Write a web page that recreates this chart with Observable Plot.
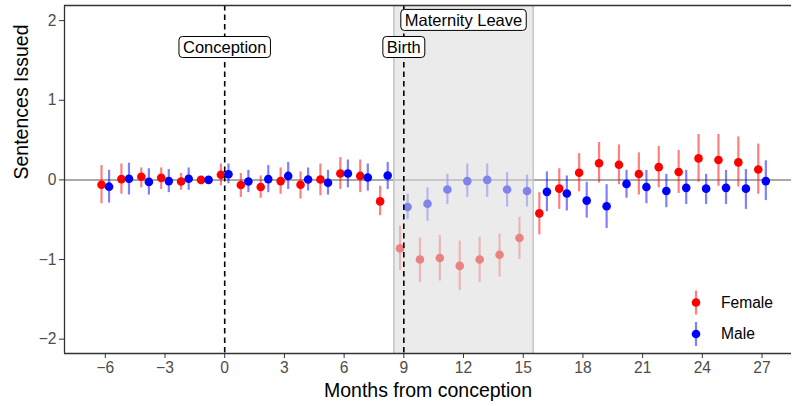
<!DOCTYPE html>
<html>
<head>
<meta charset="utf-8">
<script src="https://cdn.jsdelivr.net/npm/d3@7"></script>
<script src="https://cdn.jsdelivr.net/npm/@observablehq/plot@0.6"></script>
<style>
  html, body { margin: 0; padding: 0; background: #fff; }
  #chart { width: 792px; height: 406px; }
  #chart svg { font-family: "Liberation Sans", Arial, Helvetica, sans-serif; }
</style>
</head>
<body>
<div id="chart"></div>
<script>
// Event-study estimates: months relative to conception
const months = [-6, -5, -4, -3, -2, -1, 0, 1, 2, 3, 4, 5, 6, 7, 8, 9, 10, 11, 12, 13,
                14, 15, 16, 17, 18, 19, 20, 21, 22, 23, 24, 25, 26, 27];

// Female judges: point estimate and 95% interval
const femaleEst = [-0.06, 0.01, 0.04, 0.025, -0.02, 0.0, 0.065, -0.065, -0.09, -0.015,
                   -0.06, 0.005, 0.08, 0.05, -0.27, -0.86, -1.0, -0.98, -1.08, -1.0,
                   -0.94, -0.73, -0.42, -0.11, 0.09, 0.21, 0.19, 0.075, 0.16, 0.10,
                   0.27, 0.25, 0.22, 0.13];
const femaleLo = [-0.30, -0.18, -0.10, -0.12, -0.13, 0.0, -0.075, -0.22, -0.23, -0.18,
                  -0.24, -0.20, -0.12, -0.16, -0.45, -1.14, -1.29, -1.27, -1.39, -1.29,
                  -1.22, -1.00, -0.69, -0.37, -0.15, -0.04, -0.06, -0.19, -0.10, -0.17,
                  -0.03, -0.08, -0.09, -0.18];
const femaleHi = [0.18, 0.20, 0.15, 0.15, 0.08, 0.0, 0.20, 0.08, 0.05, 0.15,
                  0.10, 0.20, 0.28, 0.25, -0.08, -0.58, -0.73, -0.70, -0.77, -0.72,
                  -0.68, -0.47, -0.16, 0.14, 0.33, 0.47, 0.44, 0.34, 0.42, 0.37,
                  0.57, 0.57, 0.54, 0.45];

// Male judges
const maleEst = [-0.085, 0.015, -0.025, -0.015, 0.015, 0.0, 0.07, -0.02, 0.01, 0.05,
                 0.005, -0.035, 0.08, 0.03, 0.055, -0.34, -0.30, -0.12, -0.015, 0.0,
                 -0.12, -0.14, -0.15, -0.17, -0.26, -0.33, -0.05, -0.09, -0.14, -0.10,
                 -0.11, -0.10, -0.11, -0.015];
const maleLo = [-0.29, -0.19, -0.19, -0.16, -0.13, 0.0, -0.05, -0.16, -0.16, -0.12,
                -0.14, -0.19, -0.10, -0.14, -0.12, -0.50, -0.52, -0.31, -0.22, -0.22,
                -0.34, -0.34, -0.40, -0.39, -0.48, -0.61, -0.23, -0.30, -0.35, -0.31,
                -0.31, -0.31, -0.37, -0.26];
const maleHi = [0.12, 0.21, 0.14, 0.13, 0.15, 0.0, 0.20, 0.12, 0.18, 0.22,
                0.15, 0.12, 0.25, 0.20, 0.22, -0.18, -0.10, 0.07, 0.20, 0.20,
                0.09, 0.06, 0.10, 0.05, -0.03, -0.06, 0.12, 0.12, 0.07, 0.12,
                0.07, 0.12, 0.13, 0.24];

const groups = ["Female", "Male"];
const groupColors = ["#FF0000", "#0000FF"];
const xTicks = [-6, -3, 0, 3, 6, 9, 12, 15, 18, 21, 24, 27];
const yTicks = [-2, -1, 0, 1, 2];

// Event markers and the leave window
const eventLines = [0, 9];
const eventLabels = [
  {x: 0, y: 1.66, text: "Conception"},
  {x: 9, y: 1.66, text: "Birth"},
  {x: 12, y: 2.0, text: "Maternity Leave"}
];
const leave = [{start: 8.5, end: 15.5}];

const xDomain = [-8.05, 28.48];
const yDomain = [-2.18, 2.19];
const dodge = {Female: -0.19, Male: 0.19};

// Long table: one row per month and group
const rows = [];
months.forEach((m, i) => {
  rows.push({month: m, group: "Female", est: femaleEst[i], lo: femaleLo[i], hi: femaleHi[i]});
  rows.push({month: m, group: "Male", est: maleEst[i], lo: maleLo[i], hi: maleHi[i]});
});
rows.forEach(d => { d.xd = d.month + dodge[d.group]; });

const minus = d => (d < 0 ? "\u2212" + Math.abs(d) : String(d));

const plot = Plot.plot({
  width: 792,
  height: 406,
  marginLeft: 64,
  marginRight: 1,
  marginTop: 5,
  marginBottom: 53,
  x: {domain: xDomain},
  y: {domain: yDomain},
  color: {domain: groups, range: groupColors},
  marks: [
    Plot.ruleY([0], {stroke: "#8c8c8c", strokeWidth: 1.5}),
    Plot.ruleX(rows, {x: "xd", y1: "lo", y2: "hi", stroke: "group", strokeOpacity: 0.5, strokeWidth: 2.2}),
    Plot.dot(rows, {x: "xd", y: "est", fill: "group", r: 4.3}),
    // translucent band over the leave window
    Plot.rect(leave, {x1: "start", x2: "end", y1: yDomain[0], y2: yDomain[1], fill: "#dddddd", fillOpacity: 0.59}),
    Plot.ruleX(leave, {x: "start", stroke: "#c4c4c4", strokeWidth: 1.5}),
    Plot.ruleX(leave, {x: "end", stroke: "#c4c4c4", strokeWidth: 1.5}),
    Plot.ruleX(eventLines, {stroke: "#000", strokeWidth: 1.6, strokeDasharray: "5.5,4"}),
    Plot.text(eventLabels, {x: "x", y: "y", text: "text", fontSize: 16.5, fill: "#000"}),
    // panel edges
    Plot.ruleX([xDomain[0]], {stroke: "#333", strokeWidth: 1.3}),
    Plot.ruleY([yDomain[0]], {stroke: "#333", strokeWidth: 1.3}),
    Plot.ruleY([yDomain[1]], {stroke: "#333", strokeWidth: 1.3}),
    Plot.axisX(xTicks, {tickSize: 5, tickPadding: 3, tickFormat: minus, fontSize: 15.6, fill: "#4d4d4d", stroke: "#333", label: null}),
    Plot.axisY(yTicks, {tickSize: 5, tickPadding: 3, tickFormat: minus, fontSize: 15.6, fill: "#4d4d4d", stroke: "#333", label: null}),
    Plot.text(["Months from conception"], {frameAnchor: "bottom", lineAnchor: "middle", dy: 37, fontSize: 19.5, fill: "#000"}),
    Plot.text(["Sentences Issued"], {frameAnchor: "left", lineAnchor: "middle", dx: -43, rotate: -90, fontSize: 19.5, fill: "#000"})
  ]
});

document.getElementById("chart").appendChild(plot);

// Boxed labels: a rounded white box behind each event label
const labelTexts = new Set(eventLabels.map(d => d.text));
d3.select(plot).selectAll("text")
  .filter(function () { return labelTexts.has(this.textContent); })
  .each(function () {
    const b = this.getBBox();
    const t = this.getAttribute("transform");
    const r = document.createElementNS("http://www.w3.org/2000/svg", "rect");
    if (t) r.setAttribute("transform", t);
    r.setAttribute("x", b.x - 4);
    r.setAttribute("y", b.y - 1.5);
    r.setAttribute("width", b.width + 8);
    r.setAttribute("height", b.height + 3);
    r.setAttribute("rx", 3.5);
    r.setAttribute("fill", "#fff");
    r.setAttribute("stroke", "#000");
    r.setAttribute("stroke-width", 1);
    this.parentNode.insertBefore(r, this);
  });

// Legend inside the panel, bottom right
const color = plot.scale("color");
const legend = d3.select(plot).append("g").attr("aria-label", "legend").attr("text-anchor", "start");
groups.forEach((g, i) => {
  const cy = 302.5 + i * 31.5;
  const c = color.apply(g);
  legend.append("line").attr("x1", 696).attr("x2", 696).attr("y1", cy - 12).attr("y2", cy + 12)
    .attr("stroke", c).attr("stroke-opacity", 0.5).attr("stroke-width", 2.2);
  legend.append("circle").attr("cx", 696).attr("cy", cy).attr("r", 4.3).attr("fill", c);
  legend.append("text").attr("x", 721).attr("y", cy).attr("dy", "0.35em")
    .attr("font-size", 15.6).attr("fill", "#000").text(g);
});
</script>
</body>
</html>
